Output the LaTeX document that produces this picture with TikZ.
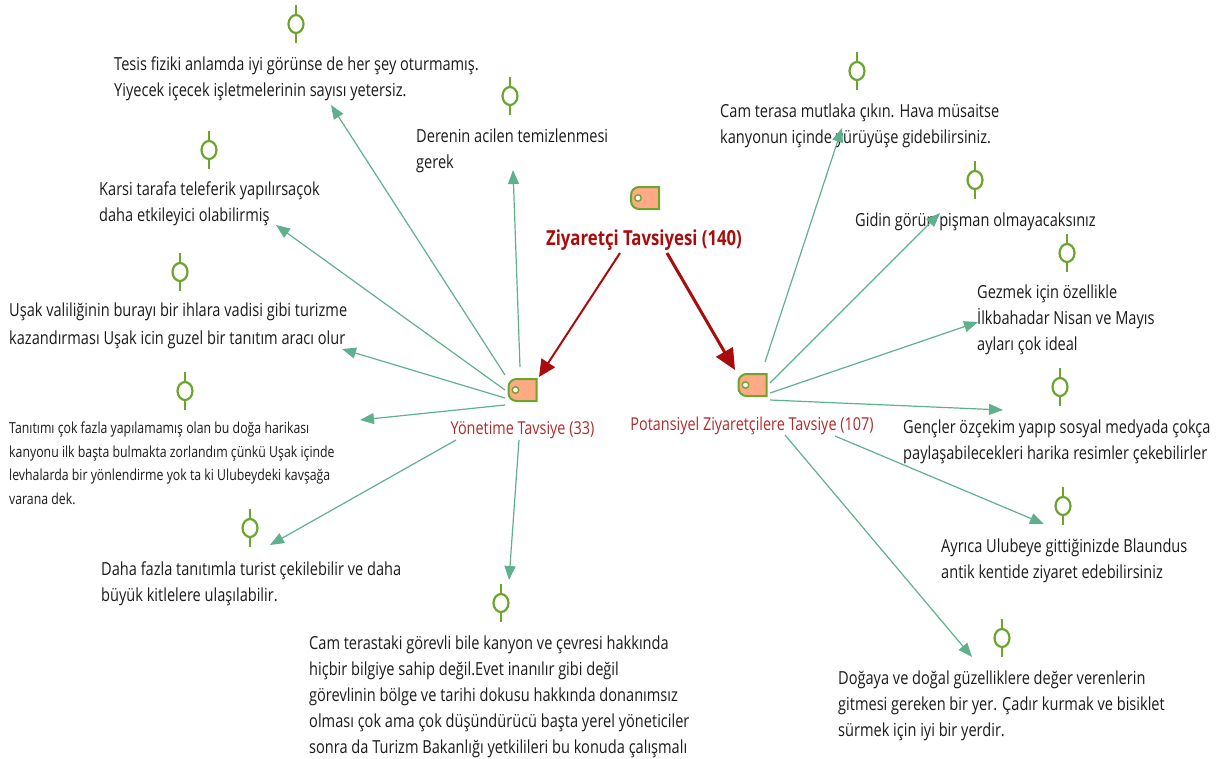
\documentclass[tikz,border=0pt]{standalone}
\usepackage{fontspec}
\setmainfont[FakeStretch=0.81]{Open Sans}
\usetikzlibrary{arrows.meta,shapes.geometric}
\definecolor{linkgreen}{HTML}{5FB08C}
\definecolor{pingreen}{HTML}{6BA52E}
\definecolor{tagfill}{HTML}{FFA985}
\definecolor{darkred}{HTML}{A80C0C}
\definecolor{labelred}{HTML}{B02A2A}
\definecolor{txt}{HTML}{1A1A1A}
\newcommand{\pinat}[2]{%
  \draw[pinline] (#2) ++(0,-19) -- ++(0,38);
  \node[pinhead] (#1) at (#2) {};}
\newcommand{\tagat}[2]{%
  \coordinate (#1) at (#2);
  \draw[tagshape] (#1) ++(14,-11) -- ++(-20,0) arc[start angle=270,end angle=180,radius=8] -- ++(0,6) arc[start angle=180,end angle=90,radius=8] -- ++(20,0) -- cycle;
  \node[taghole] at ([xshift=-7]#1) {};}
\begin{document}
\begin{tikzpicture}[x=1pt,y=-1pt,
  pinline/.style={draw=pingreen,line width=2.2pt},
  pinhead/.style={ellipse,draw=pingreen,fill=white,line width=2.2pt,minimum width=15pt,minimum height=18pt,inner sep=0pt},
  tagshape/.style={draw=pingreen,fill=tagfill,line width=2pt},
  taghole/.style={circle,draw=pingreen,fill=white,line width=1.4pt,minimum size=6.5pt,inner sep=0pt},
  note/.style={anchor=north west,align=left,inner sep=0pt,text=txt,font=\fontsize{18}{26}\selectfont},
  notesmall/.style={anchor=north west,align=left,inner sep=0pt,text=txt,font=\fontsize{15.2}{23.4}\selectfont},
  link/.style={draw=linkgreen,line width=1.2pt,-{Triangle[length=14pt,width=11pt]}},
  rootlink/.style={draw=darkred,line width=2pt,-{Triangle[length=17pt,width=16pt]}},
  rootlinkb/.style={draw=darkred,line width=3pt,-{Triangle[length=21pt,width=19pt]}},
]
\useasboundingbox (0,0) rectangle (1229,758);
\tagat{troot}{645,198}
\tagat{tleft}{522.5,390}
\tagat{tright}{752.5,385}
\pinat{p1}{296,24}
\pinat{p2}{510,96}
\pinat{p3}{209,150}
\pinat{p4}{180,272}
\pinat{p5}{185,391}
\pinat{p6}{250,528}
\pinat{p7}{501,603}
\pinat{p8}{857,71}
\pinat{p9}{975,180}
\pinat{p10}{1067,253}
\pinat{p11}{1060,387}
\pinat{p12}{1063,506}
\pinat{p13}{1002,638}
\node[anchor=center,inner sep=0pt,text=darkred,font=\fontsize{20.7}{24}\bfseries\selectfont] (root) at (644,240) {Ziyaretçi Tavsiyesi (140)};
\node[anchor=center,inner sep=0pt,text=labelred,font=\fontsize{17.8}{20}\selectfont] (left) at (522.5,430.5) {Yönetime Tavsiye (33)};
\node[anchor=center,inner sep=0pt,text=labelred,font=\fontsize{17.8}{20}\selectfont] (right) at (752,425.5) {Potansiyel Ziyaretçilere Tavsiye (107)};
\node[note] (n1) at (114,56.5) {Tesis fiziki anlamda iyi görünse de her şey oturmamış.\\Yiyecek içecek işletmelerinin sayısı yetersiz.};
\node[note] (n2) at (416,128.5) {Derenin acilen temizlenmesi\\gerek};
\node[note] (n3) at (99,181.5) {Karsi tarafa teleferik yapılırsaçok\\daha etkileyici olabilirmiş};
\node[note] (n4) at (9,302.5) {Uşak valiliğinin burayı bir ihlara vadisi gibi turizme\\[2pt]kazandırması Uşak icin guzel bir tanıtım aracı olur};
\node[notesmall] (n5) at (9,422) {Tanıtımı çok fazla yapılamamış olan bu doğa harikası\\kanyonu ilk başta bulmakta zorlandım çünkü Uşak içinde\\levhalarda bir yönlendirme yok ta ki Ulubeydeki kavşağa\\varana dek.};
\node[note] (n6) at (101,561.5) {Daha fazla tanıtımla turist çekilebilir ve daha\\büyük kitlelere ulaşılabilir.};
\node[note] (n7) at (309,635.5) {Cam terastaki görevli bile kanyon ve çevresi hakkında\\hiçbir bilgiye sahip değil.Evet inanılır gibi değil\\görevlinin bölge ve tarihi dokusu hakkında donanımsız\\olması çok ama çok düşündürücü başta yerel yöneticiler\\sonra da Turizm Bakanlığı yetkilileri bu konuda çalışmalı};
\node[note] (n8) at (720,103.5) {Cam terasa mutlaka çıkın. Hava müsaitse\\kanyonun içinde yürüyüşe gidebilirsiniz.};
\node[note] (n9) at (855,212.5) {Gidin görün pişman olmayacaksınız};
\node[note] (n10) at (977,284.5) {Gezmek için özellikle\\İlkbahadar Nisan ve Mayıs\\ayları çok ideal};
\node[note] (n11) at (903,419.5) {Gençler özçekim yapıp sosyal medyada çokça\\paylaşabilecekleri harika resimler çekebilirler};
\node[note] (n12) at (941,538.5) {Ayrıca Ulubeye gittiğinizde Blaundus\\antik kentide ziyaret edebilirsiniz};
\node[note] (n13) at (838,670.5) {Doğaya ve doğal güzelliklere değer verenlerin\\gitmesi gereken bir yer. Çadır kurmak ve bisiklet\\sürmek için iyi bir yerdir.};
% connector ends
\foreach \nm/\pos in {a1/{505,375},b1/{331,105},a2/{520,367},b2/{513,170},a3/{505,390},b3/{276,225},a4/{505,398},b4/{342,349},a5/{505,405},b5/{360,420},a6/{456,440},b6/{270,545},a7/{519,440},b7/{509,580},a8/{765,362},b8/{842,128},a9/{770,383},b9/{940,213},a10/{770,393},b10/{978,322},a11/{770,400},b11/{1003,410},a12/{835,436},b12/{1044,524},a13/{785,435},b13/{972,657},r1/{620,253},s1/{539,377},r2/{667,253},s2/{735,370}}
  {\coordinate (\nm) at (\pos);}
\foreach \i in {1,...,13} {\draw[link] (a\i) -- (b\i);}
\draw[rootlink] (r1) -- (s1);
\draw[rootlinkb] (r2) -- (s2);
\end{tikzpicture}
\end{document}
